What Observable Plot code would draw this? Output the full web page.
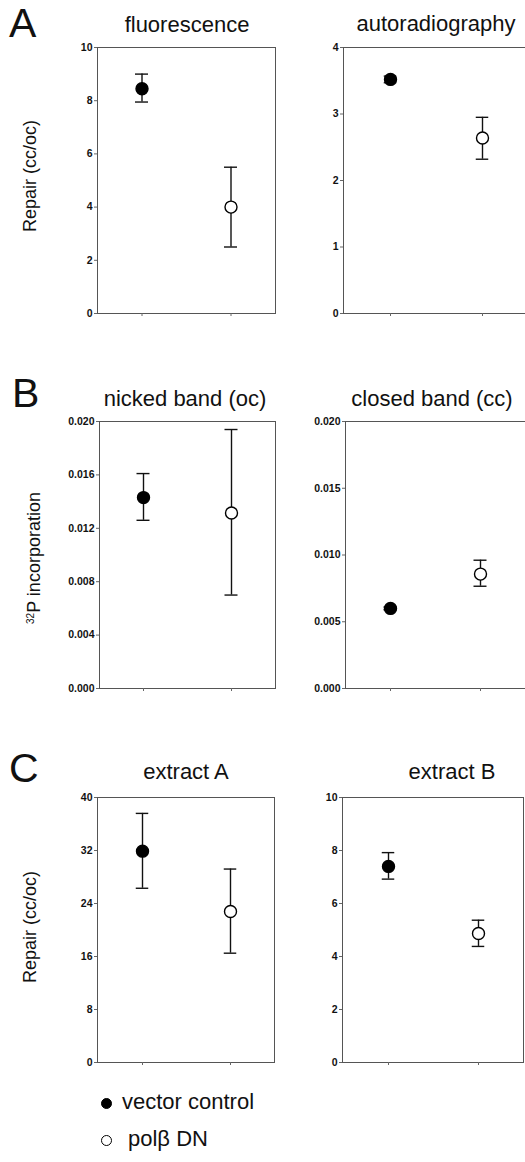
<!DOCTYPE html>
<html>
<head>
<meta charset="utf-8">
<script src="https://cdn.jsdelivr.net/npm/d3@7"></script>
<script src="https://cdn.jsdelivr.net/npm/@observablehq/plot@0.6"></script>
<style>
  html, body { margin: 0; padding: 0; background: #fff; }
  body { width: 525px; height: 1162px; overflow: hidden; position: relative;
         font-family: "Liberation Sans", Arial, sans-serif; color: #111; }
  .abs { position: absolute; }
  .title { font-size: 22px; line-height: 22px; width: 300px; text-align: center; white-space: nowrap; }
  .letter { font-size: 41px; line-height: 41px; }
  .ylab { font-size: 18px; line-height: 18px; white-space: nowrap; transform: translate(-50%, -50%) rotate(-90deg); }
  .ylab sup { font-size: 10px; vertical-align: 6px; }
  .leg { font-size: 22px; line-height: 22px; white-space: nowrap; }
  .sw { position: absolute; width: 11px; height: 11px; border-radius: 50%; box-sizing: border-box; }
</style>
</head>
<body>
<script>
// ---- data ----
const groups = ["vector control", "polβ DN"];
const panelTitles = ["fluorescence", "autoradiography", "nicked band (oc)", "closed band (cc)", "extract A", "extract B"];
const panelLetters = ["A", "B", "C"];
const yLabels = ["Repair (cc/oc)", "32P incorporation", "Repair (cc/oc)"];

const fluorescenceMean = [8.45, 4.0];
const fluorescenceLow  = [7.95, 2.5];
const fluorescenceHigh = [9.0, 5.5];

const autoradMean = [3.52, 2.64];
const autoradLow  = [3.47, 2.32];
const autoradHigh = [3.57, 2.95];

const nickedMean = [0.0143, 0.01315];
const nickedLow  = [0.0126, 0.0070];
const nickedHigh = [0.0161, 0.0194];

const closedMean = [0.0060, 0.00857];
const closedLow  = [0.0059, 0.00766];
const closedHigh = [0.0061, 0.00961];

const extractAMean = [31.9, 22.8];
const extractALow  = [26.3, 16.5];
const extractAHigh = [37.6, 29.2];

const extractBMean = [7.4, 4.87];
const extractBLow  = [6.92, 4.38];
const extractBHigh = [7.92, 5.37];

const fluorescenceTicks = [0, 2, 4, 6, 8, 10];
const autoradTicks = [0, 1, 2, 3, 4];
const nickedTicks = [0, 0.004, 0.008, 0.012, 0.016, 0.020];
const closedTicks = [0, 0.005, 0.010, 0.015, 0.020];
const extractATicks = [0, 8, 16, 24, 32, 40];
const extractBTicks = [0, 2, 4, 6, 8, 10];

// ---- layout (frame boxes in page px) ----
const panels = [
  {mean: fluorescenceMean, low: fluorescenceLow, high: fluorescenceHigh, ticks: fluorescenceTicks, fmt: d3.format("d"), box: [97, 275, 47, 313]},
  {mean: autoradMean, low: autoradLow, high: autoradHigh, ticks: autoradTicks, fmt: d3.format("d"), box: [343, 528, 47, 313]},
  {mean: nickedMean, low: nickedLow, high: nickedHigh, ticks: nickedTicks, fmt: d3.format(".3f"), box: [99, 275, 421, 688]},
  {mean: closedMean, low: closedLow, high: closedHigh, ticks: closedTicks, fmt: d3.format(".3f"), box: [345, 525, 421, 688]},
  {mean: extractAMean, low: extractALow, high: extractAHigh, ticks: extractATicks, fmt: d3.format("d"), box: [97, 274, 797, 1062]},
  {mean: extractBMean, low: extractBLow, high: extractBHigh, ticks: extractBTicks, fmt: d3.format("d"), box: [342, 523, 797, 1062]}
];
const titlePos = [[187, 33], [436, 32], [185, 407], [432, 407], [186, 780], [452, 780]];
const letterPos = [[9, 38], [12, 408], [9, 783]];
const yLabelPos = [[30, 176], [32, 558], [30, 927]];

const ML = 45, MR = 4, MT = 4, MB = 8;

panels.forEach((p, i) => {
  const [FL, FR, FT, FB] = p.box;
  const rows = groups.map((g, j) => ({group: g, mean: p.mean[j], low: p.low[j], high: p.high[j]}));
  const fw = FR - FL;
  const capInset = fw / 4 - 6.5;
  const chart = Plot.plot({
    width: ML + fw + MR,
    height: MT + (FB - FT) + MB,
    marginLeft: ML, marginRight: MR, marginTop: MT, marginBottom: MB,
    x: {type: "band", domain: groups, padding: 0, axis: null, label: null},
    y: {domain: [p.ticks[0], p.ticks[p.ticks.length - 1]], axis: null, label: null},
    color: {domain: groups, range: ["#000", "#fff"]},
    style: {background: "transparent", fontFamily: "'Liberation Sans', Arial, sans-serif", color: "#111", overflow: "visible"},
    marks: [
      Plot.frame({stroke: "#555", strokeWidth: 1}),
      Plot.axisY({ticks: p.ticks, tickFormat: p.fmt, tickSize: 3, tickPadding: 2, fontSize: 10.5, fontWeight: "bold", stroke: "#666", label: null}),
      Plot.axisX({ticks: groups, tickFormat: () => "", tickSize: 3, stroke: "#666", label: null}),
      Plot.ruleX(rows, {x: "group", y1: "low", y2: "high", stroke: "#111", strokeWidth: 1.4}),
      Plot.tickY(rows, {x: "group", y: "low", insetLeft: capInset, insetRight: capInset, stroke: "#111", strokeWidth: 1.4}),
      Plot.tickY(rows, {x: "group", y: "high", insetLeft: capInset, insetRight: capInset, stroke: "#111", strokeWidth: 1.4}),
      Plot.dot(rows, {x: "group", y: "mean", r: 6, fill: "group", stroke: "#000", strokeWidth: 1.4})
    ]
  });
  chart.style.position = "absolute";
  chart.style.left = (FL - ML) + "px";
  chart.style.top = (FT - MT) + "px";
  document.body.appendChild(chart);
});

// titles
panelTitles.forEach((t, i) => {
  const d = document.createElement("div");
  d.className = "abs title";
  d.textContent = t;
  d.style.left = (titlePos[i][0] - 150) + "px";
  d.style.top = (titlePos[i][1] - 18.6) + "px";
  document.body.appendChild(d);
});

// panel letters
panelLetters.forEach((t, i) => {
  const d = document.createElement("div");
  d.className = "abs letter";
  d.textContent = t;
  d.style.left = letterPos[i][0] + "px";
  d.style.top = (letterPos[i][1] - 41 * 0.8465) + "px";
  document.body.appendChild(d);
});

// y labels
yLabels.forEach((t, i) => {
  const d = document.createElement("div");
  d.className = "abs ylab";
  if (t.startsWith("32P")) {
    d.innerHTML = "<sup>32</sup>" + t.slice(2);
  } else {
    d.textContent = t;
  }
  d.style.left = yLabelPos[i][0] + "px";
  d.style.top = yLabelPos[i][1] + "px";
  document.body.appendChild(d);
});

// legend
const legendPos = [[122, 1110], [128, 1147]];
groups.forEach((g, j) => {
  const sw = document.createElement("div");
  sw.className = "sw";
  sw.style.left = (106 - 5.5) + "px";
  sw.style.top = (legendPos[j][1] - 7 - 5.5) + "px";
  sw.style.background = j === 0 ? "#000" : "#fff";
  sw.style.border = "1.4px solid #000";
  document.body.appendChild(sw);
  const d = document.createElement("div");
  d.className = "abs leg";
  d.textContent = g;
  d.style.left = legendPos[j][0] + "px";
  d.style.top = (legendPos[j][1] - 22 * 0.8465) + "px";
  document.body.appendChild(d);
});
</script>
</body>
</html>
